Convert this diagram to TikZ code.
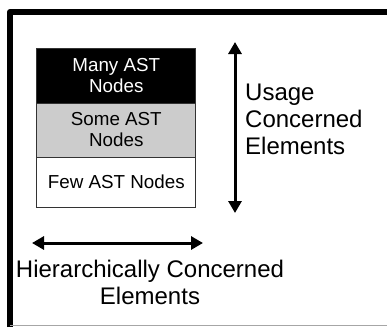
\documentclass[tikz,border=0pt]{standalone}
\usepackage{fontspec}
\setmainfont{Liberation Sans}
\usetikzlibrary{arrows.meta}
\tikzstyle{layer}=[draw=black!80, line width=0.8pt, minimum width=159pt, inner sep=0pt, align=center, font=\fontsize{18.8}{21}\selectfont]
\tikzstyle{axislabel}=[inner sep=0pt, font=\fontsize{24}{27}\selectfont]
\tikzstyle{axisarrow}=[line width=3pt, >={Triangle[length=12pt,width=13pt]}, <->]

\begin{document}
\begin{tikzpicture}[x=1pt, y=-1pt]
    \useasboundingbox (0,0) rectangle (387,327);
% Frame
    \draw[line width=6pt, line join=round] (10,327) -- (10,12) -- (387,12);
    \draw[black!35, line width=1pt] (10,325) -- (387,325);
% Stack of layers
    \node[layer, fill=black, text=white, minimum height=54.7pt] (many) at (116.3,75.7) {Many AST\\Nodes};
    \node[layer, fill=black!20, minimum height=54pt] (some) at (116.3,130) {Some AST\\Nodes};
    \node[layer, fill=white, minimum height=50pt] (few) at (116.3,182) {Few AST Nodes};
% Arrows
    \coordinate (utop) at (235,42);
    \coordinate (ubot) at (235,213);
    \draw[axisarrow] (utop) -- (ubot);
    \coordinate (hleft) at (32,243);
    \coordinate (hright) at (203,243);
    \draw[axisarrow] (hleft) -- (hright);
% Labels
    \node[axislabel, anchor=west, align=left] (usage) at (245,119.4) {Usage\\Concerned\\Elements};
    \node[axislabel, align=center] (hier) at (150,282.8) {Hierarchically Concerned\\Elements};
\end{tikzpicture}
\end{document}
